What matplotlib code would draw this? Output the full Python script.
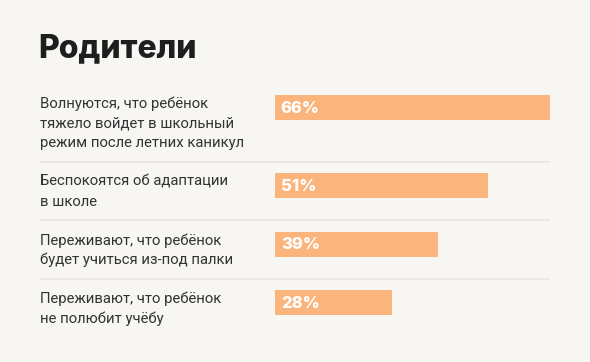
import matplotlib
matplotlib.use("Agg")
import matplotlib.pyplot as plt

# data
title = "Родители"
labels = [
    "Волнуются, что ребёнок\nтяжело войдет в школьный\nрежим после летних каникул",
    "Беспокоятся об адаптации\nв школе",
    "Переживают, что ребёнок\nбудет учиться из-под палки",
    "Переживают, что ребёнок\nне полюбит учёбу",
]
values = [66, 51, 39, 28]

BG = "#f7f6f3"
BAR = "#fbb57c"
TXT = "#333333"
SEP = "#e9e5e1"

W, H = 590, 362
fig = plt.figure(figsize=(W / 100, H / 100), dpi=100, facecolor=BG)

# layout axes in pixel units
bg = fig.add_axes([0, 0, 1, 1])
bg.set_xlim(0, W)
bg.set_ylim(H, 0)
bg.axis("off")

# bar axes: value 0 at x=275, 66 at x=550
ax = fig.add_axes([275 / W, 0, 275 / W, 1])
ax.set_xlim(0, 66)
ax.set_ylim(H, 0)
ax.axis("off")

line_h = 19.5
bar_h = 25

# row layout from line counts
top = 95
tops = []
seps = []
for lab in labels:
    tops.append(top)
    n = lab.count("\n") + 1
    seps.append(top + 27 + line_h * (n - 1) + 0.5)
    top = seps[-1] + 11.5

centers = [t + bar_h / 2 for t in tops]
ax.barh(centers, values, height=bar_h, color=BAR, left=0)

for i, (lab, v, t, c) in enumerate(zip(labels, values, tops, centers)):
    # one text per line so the line pitch is exact
    for k, line in enumerate(lab.split("\n")):
        bg.text(40, t + 13 + k * line_h, line, fontsize=10.7, color=TXT,
                va="baseline", ha="left", family="Roboto")
    ax.text(1.4, c + 0.8, f"{v}%", fontsize=12, color="white", va="center",
            ha="left", family="Inter", fontweight="heavy")
    if i < len(labels) - 1:
        bg.hlines(seps[i], 40, 550, color=SEP, lw=1.2)

bg.text(38, 57, title, fontsize=23, color="#1e1e1e", family="Inter",
        fontweight="heavy", va="baseline", ha="left")

fig.savefig("out.png", dpi=100, facecolor=BG)
